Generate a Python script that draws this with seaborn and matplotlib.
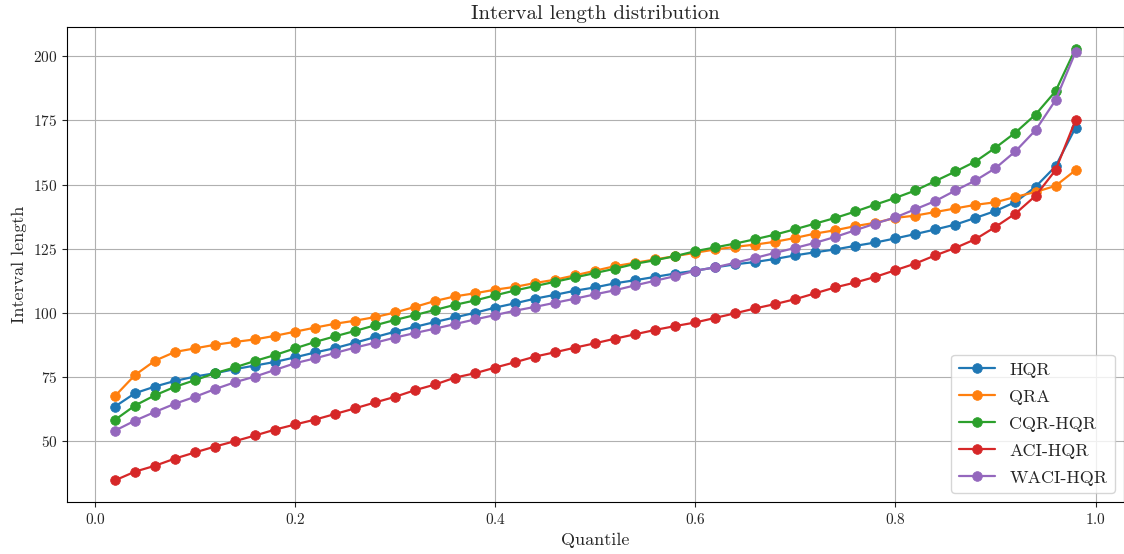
import numpy as np
import pandas as pd
import matplotlib
matplotlib.use("Agg")
import matplotlib.pyplot as plt
import seaborn as sns

quantiles = [round(0.02 * i, 2) for i in range(1, 50)]

hqr = [63.4, 68.6, 71.2, 73.4, 75.1, 76.4, 78.0, 79.4, 80.8, 82.6,
       84.5, 86.2, 88.3, 90.5, 92.6, 94.5, 96.4, 98.2, 100.0, 102.0,
       103.7, 105.5, 107.0, 108.6, 109.9, 111.5, 112.7, 114.0, 115.3, 116.4,
       117.7, 118.9, 119.8, 121.0, 122.4, 123.6, 124.7, 126.1, 127.4, 129.0,
       130.7, 132.5, 134.4, 137.0, 139.7, 143.2, 149.1, 157.1, 172.2]

qra = [67.5, 75.7, 81.3, 84.7, 86.1, 87.5, 88.6, 89.6, 91.0, 92.6,
       94.2, 95.7, 96.9, 98.3, 100.1, 102.3, 104.6, 106.4, 107.6, 109.0,
       110.1, 111.6, 112.9, 114.6, 116.4, 118.2, 119.5, 120.8, 122.1, 123.4,
       124.7, 125.7, 126.6, 127.7, 129.2, 130.9, 132.2, 133.8, 135.1, 137.0,
       137.9, 139.3, 140.7, 142.1, 143.1, 145.2, 147.1, 149.5, 155.6]

cqr_hqr = [58.2, 63.8, 67.8, 71.1, 73.7, 76.4, 78.7, 81.2, 83.5, 86.1,
           88.6, 90.8, 92.9, 95.1, 97.2, 99.1, 101.1, 103.1, 104.8, 106.8,
           108.7, 110.4, 112.1, 113.8, 115.5, 117.2, 119.1, 120.5, 122.1, 124.0,
           125.5, 127.0, 128.7, 130.5, 132.6, 134.8, 137.0, 139.5, 142.2, 144.8,
           147.7, 151.4, 155.1, 159.0, 164.4, 170.3, 177.3, 186.4, 203.0]

aci_hqr = [34.6, 38.0, 40.3, 43.1, 45.5, 47.8, 49.9, 52.1, 54.4, 56.4,
           58.3, 60.5, 62.7, 65.0, 67.2, 69.8, 72.0, 74.7, 76.4, 78.6,
           80.7, 82.9, 84.6, 86.4, 88.1, 89.9, 91.6, 93.3, 94.8, 96.2,
           98.0, 99.8, 101.7, 103.4, 105.3, 107.6, 109.9, 111.8, 114.0, 116.6,
           119.2, 122.4, 125.3, 128.7, 133.5, 138.7, 145.6, 155.6, 175.1]

waci_hqr = [54.0, 57.9, 61.3, 64.5, 67.2, 70.2, 72.9, 75.1, 77.7, 80.3,
            82.2, 84.3, 86.4, 88.3, 90.3, 92.1, 93.8, 95.6, 97.4, 99.1,
            100.8, 102.3, 103.9, 105.5, 107.2, 108.8, 110.7, 112.5, 114.3, 116.4,
            117.7, 119.5, 121.4, 123.4, 125.3, 127.3, 129.6, 132.2, 134.8, 137.2,
            140.4, 143.6, 147.7, 151.6, 156.4, 163.0, 171.2, 182.9, 201.7]

methods = ["HQR", "QRA", "CQR-HQR", "ACI-HQR", "WACI-HQR"]
series = [hqr, qra, cqr_hqr, aci_hqr, waci_hqr]

df = pd.DataFrame({
    "Quantile": np.tile(quantiles, len(methods)),
    "Interval length": np.concatenate(series),
    "method": np.repeat(methods, len(quantiles)),
})

sns.set_style("ticks")
plt.rcParams["font.family"] = ["cmr10", "DejaVu Serif"]
plt.rcParams["mathtext.fontset"] = "cm"
plt.rcParams["axes.formatter.use_mathtext"] = True
plt.rcParams["axes.unicode_minus"] = False

fig = plt.figure(figsize=(11.24, 5.54), dpi=100)
ax = fig.add_axes([0.0596, 0.094, 0.94, 0.857])

palette = sns.color_palette("tab10", len(methods))
for name, color in zip(methods, palette):
    sub = df[df["method"] == name]
    sns.lineplot(data=sub, x="Quantile", y="Interval length", ax=ax,
                 color=color, label=name, marker="o", markersize=7,
                 markeredgecolor=color, markeredgewidth=0.5, linewidth=1.6)

ax.grid(True, color="#b0b0b0", linewidth=0.8)
ax.set_axisbelow(True)
for side in ["top", "right", "left", "bottom"]:
    ax.spines[side].set_visible(True)
    ax.spines[side].set_color("black")
    ax.spines[side].set_linewidth(0.8)

ax.set_title("Interval length distribution", fontsize=15)
ax.set_xlabel("Quantile", fontsize=13)
ax.set_ylabel("Interval length", fontsize=13)
ax.tick_params(labelsize=11)
ax.set_xticks([0.0, 0.2, 0.4, 0.6, 0.8, 1.0])
ax.set_yticks([50, 75, 100, 125, 150, 175, 200])
ax.margins(x=0.05, y=0.05)

ax.legend(loc="lower right", fontsize=13, labelspacing=0.63,
          framealpha=0.8)

fig.savefig("out.png", dpi=100)
